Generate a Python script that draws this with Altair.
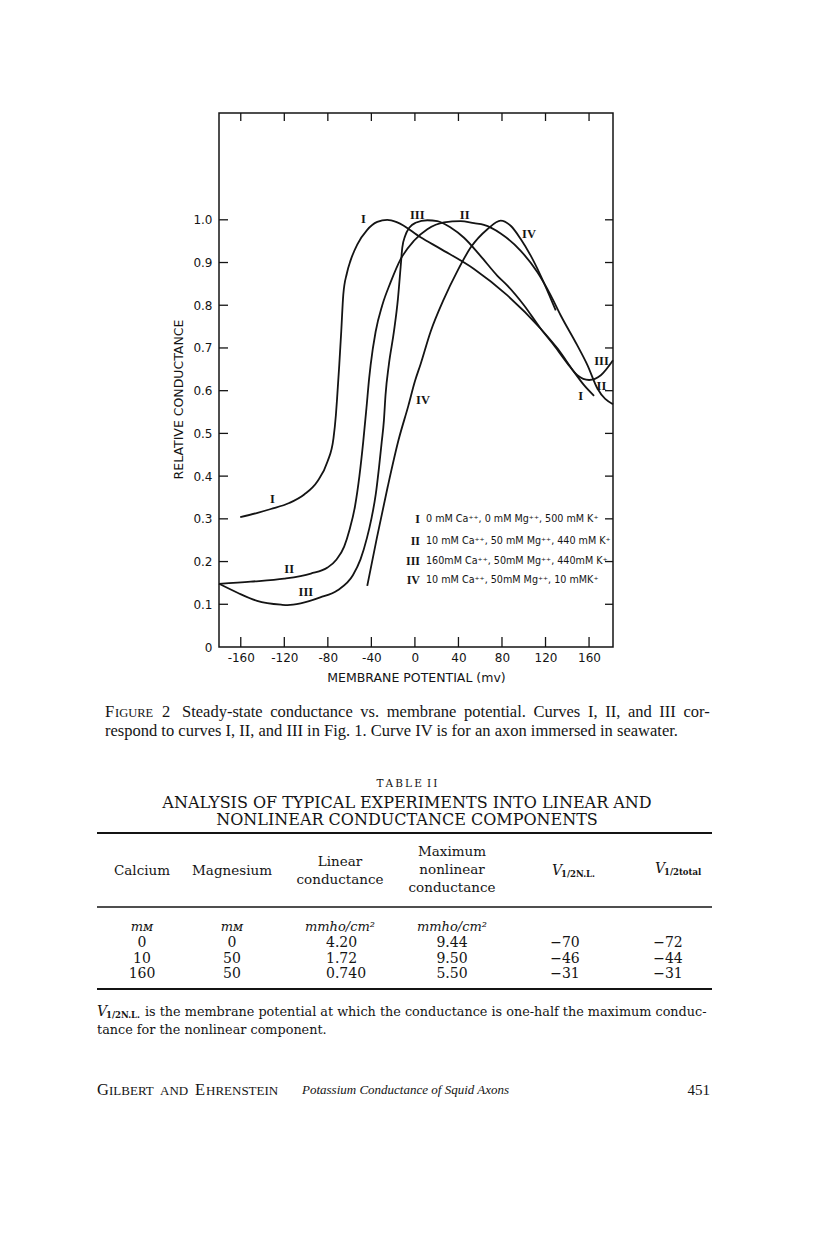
import altair as alt
import pandas as pd

# ---------------- data ----------------
curve_I_mv = [-160.5, -144.6, -132.4, -115.5, -101.7, -89.5, -80.3, -74.8, -72.6, -71.5, -69.5, -67.7,
              -65.8, -62.5, -59.1, -53.0, -44.0, -34.6, -25.4, -16.2, 5.2, 23.6, 54.3, 85.0, 115.6,
              130.9, 146.2, 155.4, 164.6]
curve_I_g = [0.304, 0.314, 0.323, 0.337, 0.357, 0.388, 0.434, 0.489, 0.543, 0.582, 0.66, 0.738,
             0.825, 0.875, 0.905, 0.942, 0.976, 0.995, 1.000, 0.994, 0.959, 0.932, 0.885, 0.823, 0.745,
             0.699, 0.644, 0.613, 0.588]

curve_II_mv = [-180.0, -150.8, -120.1, -95.6, -80.3, -72.0, -65.0, -60.0, -55.0, -51.0, -47.5, -44.5,
               -42.0, -40.7, -36.1, -30.0, -22.3, -13.1, -0.9, 11.4, 26.7, 42.0, 54.3, 63.4, 78.8,
               97.0, 112.6, 124.8, 134.0, 149.2, 158.5, 167.7, 182.0]
curve_II_g = [0.148, 0.153, 0.160, 0.172, 0.186, 0.205, 0.235, 0.275, 0.330, 0.400, 0.480, 0.560,
              0.630, 0.660, 0.738, 0.800, 0.854, 0.908, 0.951, 0.978, 0.994, 0.997, 0.992, 0.988, 0.968,
              0.928, 0.877, 0.823, 0.776, 0.706, 0.660, 0.605, 0.568]

curve_III_mv = [-180.0, -163.0, -145.0, -123.0, -117.0, -105.0, -87.0, -71.0, -57.0, -50.0, -44.0, -40.0,
                -36.0, -33.0, -30.5, -28.5, -27.0, -24.0, -19.3, -15.6, -13.1, -11.6, -9.0, -5.0, 0.6,
                11.4, 20.6, 32.8, 45.1, 60.4, 75.8, 85.0, 100.2, 115.6, 127.9, 140.1, 149.3, 160.0,
                170.8, 182.0]
curve_III_g = [0.148, 0.127, 0.108, 0.099, 0.098, 0.102, 0.116, 0.133, 0.168, 0.205, 0.256, 0.300,
               0.357, 0.420, 0.480, 0.530, 0.590, 0.660, 0.738, 0.815, 0.890, 0.935, 0.962, 0.982, 0.993,
               0.999, 0.997, 0.982, 0.958, 0.915, 0.869, 0.846, 0.800, 0.745, 0.706, 0.664, 0.636, 0.625,
               0.636, 0.671]

curve_IV_mv = [-43.8, -35.0, -25.0, -15.0, -6.0, 0.0, 5.2, 14.4, 26.7, 39.0, 51.2, 66.6, 78.8, 88.0,
               97.2, 106.4, 115.6, 129.4]
curve_IV_g = [0.143, 0.255, 0.375, 0.485, 0.565, 0.622, 0.662, 0.738, 0.815, 0.880, 0.935, 0.978,
              0.998, 0.986, 0.955, 0.916, 0.869, 0.788]

label_text = ["I", "III", "II", "IV", "III", "II", "I", "IV", "I", "II", "III"]
label_mv = [-47.4, 2.2, 45.7, 104.8, 171.4, 171.4, 152.4, 7.4, -130.9, -115.5, -100.2]
label_g = [1.003, 1.012, 1.012, 0.967, 0.669, 0.612, 0.588, 0.578, 0.347, 0.182, 0.128]

legend_numeral = ["I", "II", "III", "IV"]
legend_desc = ["0 mM Ca\u207a\u207a, 0 mM Mg\u207a\u207a, 500 mM K\u207a",
               "10 mM Ca\u207a\u207a, 50 mM Mg\u207a\u207a, 440 mM K\u207a",
               "160mM Ca\u207a\u207a, 50mM Mg\u207a\u207a, 440mM K\u207a",
               "10 mM Ca\u207a\u207a, 50mM Mg\u207a\u207a, 10 mMK\u207a"]
legend_g = [0.299, 0.249, 0.201, 0.157]

x_ticks = [-160, -120, -80, -40, 0, 40, 80, 120, 160]
y_ticks = [0, 0.1, 0.2, 0.3, 0.4, 0.5, 0.6, 0.7, 0.8, 0.9, 1.0]

# page text
caption_1 = "Steady-state conductance vs. membrane potential. Curves I, II, and III cor-"
caption_2 = "respond to curves I, II, and III in Fig. 1. Curve IV is for an axon immersed in seawater."
table_label = "T\u2009A\u2009B\u2009L\u2009E\u2002I\u2009I"
table_title_1 = "ANALYSIS OF TYPICAL EXPERIMENTS INTO LINEAR AND"
table_title_2 = "NONLINEAR CONDUCTANCE COMPONENTS"
col_calcium = ["0", "10", "160"]
col_magnesium = ["0", "50", "50"]
col_linear = ["4.20", "1.72", "0.740"]
col_maxnl = ["9.44", "9.50", "5.50"]
col_vnl = ["\u221270", "\u221246", "\u221231"]
col_vtot = ["\u221272", "\u221244", "\u221231"]
footnote_1 = "is the membrane potential at which the conductance is one-half the maximum conduc-"
footnote_2 = "tance for the nonlinear component."
footer_title = "Potassium Conductance of Squid Axons"
footer_page = "451"

# ---------------- geometry ----------------
W, H = 394, 534
OX, OY = 219, 113   # page position of the plot area
XDOM = [-180, 182]
YDOM = [0, 1.25]
INK = "#141414"

xs = alt.Scale(domain=XDOM, nice=False, zero=False)
ys = alt.Scale(domain=YDOM, nice=False, zero=False)

rows = []
for name, mv, g in [("I", curve_I_mv, curve_I_g), ("II", curve_II_mv, curve_II_g),
                    ("III", curve_III_mv, curve_III_g), ("IV", curve_IV_mv, curve_IV_g)]:
    for a, b in zip(mv, g):
        rows.append({"curve": name, "mv": a, "g": b})
curves = pd.DataFrame(rows)

lines = alt.Chart(curves).mark_line(interpolate="monotone", color=INK, strokeWidth=1.8).encode(
    x=alt.X("mv:Q", scale=xs, axis=alt.Axis(
        values=x_ticks, ticks=False, domain=False, grid=False,
        labelExpr="(datum.value < 0 ? '-' : '') + abs(datum.value)",
        labelFont="DejaVu Sans", labelFontSize=12, labelColor=INK, labelPadding=5,
        title="MEMBRANE POTENTIAL (mv)", titleFont="DejaVu Sans", titleFontSize=12.5,
        titleFontWeight="normal", titleColor=INK, titlePadding=8)),
    y=alt.Y("g:Q", scale=ys, axis=alt.Axis(
        values=y_ticks, ticks=False, domain=False, grid=False,
        labelExpr="datum.value == 0 ? '0' : format(datum.value, '.1f')",
        labelFont="DejaVu Sans", labelFontSize=12, labelColor=INK, labelPadding=7,
        title="RELATIVE CONDUCTANCE", titleFont="DejaVu Sans", titleFontSize=12.5,
        titleFontWeight="normal", titleColor=INK, titleX=-41, titleY=286,
        titleAngle=270, titleAlign="center", titleBaseline="middle")),
    detail="curve:N",
)

labels_df = pd.DataFrame({"t": label_text, "mv": label_mv, "g": label_g})
labels = alt.Chart(labels_df).mark_text(font="Liberation Serif", fontSize=12.5, fontWeight="bold",
                                        color=INK, align="center", baseline="middle").encode(
    x=alt.X("mv:Q", scale=xs), y=alt.Y("g:Q", scale=ys), text="t:N")

leg_df = pd.DataFrame({"n": legend_numeral, "d": legend_desc, "g": legend_g})
leg_num = alt.Chart(leg_df).mark_text(font="Liberation Serif", fontSize=12, fontWeight="bold", color=INK,
                                      align="right", baseline="middle").encode(
    x=alt.value(201), y=alt.Y("g:Q", scale=ys), text="n:N")
leg_txt = alt.Chart(leg_df).mark_text(font="DejaVu Sans", fontSize=9.6, color=INK,
                                      align="left", baseline="middle").encode(
    x=alt.value(207), y=alt.Y("g:Q", scale=ys), text="d:N")

# inward ticks on all four sides
xt = pd.DataFrame({"v": x_ticks})
yt = pd.DataFrame({"v": y_ticks[1:]})
tick_kw = dict(color=INK, strokeWidth=1.3)
t_bottom = alt.Chart(xt).mark_rule(**tick_kw).encode(x=alt.X("v:Q", scale=xs), y=alt.value(H), y2=alt.value(H - 10))
t_top = alt.Chart(xt).mark_rule(**tick_kw).encode(x=alt.X("v:Q", scale=xs), y=alt.value(0), y2=alt.value(8))
t_left = alt.Chart(yt).mark_rule(**tick_kw).encode(y=alt.Y("v:Q", scale=ys), x=alt.value(0), x2=alt.value(9))
t_right = alt.Chart(yt).mark_rule(**tick_kw).encode(y=alt.Y("v:Q", scale=ys), x=alt.value(W), x2=alt.value(W - 8))


# ---------------- page text (pixel placed) ----------------
def page_text(items, **kw):
    df = pd.DataFrame([{"t": t, "x": px - OX, "y": py - OY} for t, px, py in items])
    base = dict(color=INK, baseline="middle")
    base.update(kw)
    return alt.Chart(df).mark_text(**base).encode(
        x=alt.X("x:Q", scale=None, axis=None), y=alt.Y("y:Q", scale=None, axis=None), text="t:N")


# Times-compatible advance widths (1/1000 em) for justifying a line of Liberation Serif
TIMES_W = {c: w for c, w in zip("abcdefghijklmnopqrstuvwxyz",
                                [444, 500, 444, 500, 444, 333, 500, 500, 278, 278, 500, 278, 778,
                                 500, 500, 500, 500, 333, 389, 278, 500, 500, 722, 500, 500, 444])}
TIMES_W.update({" ": 250, ".": 250, ",": 250, "-": 333, "C": 667, "I": 333, "S": 556, "V": 722, "F": 556})


def justify(line, left, right, size):
    words = line.split(" ")
    widths = [sum(TIMES_W.get(ch, 500) for ch in w) * size / 1000 for w in words]
    gap = (right - left - sum(widths)) / (len(words) - 1)
    out, x = [], left
    for w, wd in zip(words, widths):
        out.append((w, x))
        x += wd + gap
    return out


SERIF = "Liberation Serif"
CAP_Y1, CAP_Y2 = 712, 731
cap = [
    page_text([("F", 105, CAP_Y1), ("2", 162, CAP_Y1)], font=SERIF, fontSize=16.5, align="left"),
    page_text([("IGURE", 115, CAP_Y1 + 1)], font=SERIF, fontSize=12.5, align="left"),
    page_text([(w, x, CAP_Y1) for w, x in justify(caption_1, 182, 710, 16.5)] + [(caption_2, 105, CAP_Y2)],
              font=SERIF, fontSize=16.5, align="left"),
]
ttl = [
    page_text([(table_label, 407, 784)], font="DejaVu Serif", fontSize=10.5, align="center"),
    page_text([(table_title_1, 407, 803), (table_title_2, 407, 820)], font="DejaVu Serif", fontSize=16, align="center"),
]
hdr = [
    page_text([("Calcium", 142, 871), ("Magnesium", 232, 871), ("Linear", 340, 862), ("conductance", 340, 880),
               ("Maximum", 452, 852), ("nonlinear", 452, 870), ("conductance", 452, 888)],
              font="DejaVu Serif", fontSize=13.5, align="center"),
    page_text([("V", 552, 871), ("V", 655, 869)], font="DejaVu Serif", fontSize=14, fontStyle="italic", align="left"),
    page_text([("1/2N.L.", 561, 874), ("1/2total", 664, 872)], font="DejaVu Serif", fontSize=8.5, fontWeight="bold", align="left"),
    page_text([("m\u1d0d", 142, 927), ("m\u1d0d", 232, 927), ("mmho/cm\u00b2", 340, 927), ("mmho/cm\u00b2", 452, 927)],
              font="DejaVu Serif", fontSize=13, fontStyle="italic", align="center"),
]
body_items_c = []
row_y = [943, 959, 974]
for i, yy in enumerate(row_y):
    body_items_c += [(col_calcium[i], 142, yy), (col_magnesium[i], 232, yy), (col_maxnl[i], 452, yy),
                     (col_vnl[i], 565, yy), (col_vtot[i], 668, yy)]
body = [
    page_text(body_items_c, font="DejaVu Serif", fontSize=14, align="center"),
    page_text([(col_linear[i], 326, yy) for i, yy in enumerate(row_y)], font="DejaVu Serif", fontSize=14, align="left"),
]
foot = [
    page_text([("V", 97, 1012)], font="DejaVu Serif", fontSize=14, fontStyle="italic", align="left"),
    page_text([("1/2N.L.", 106, 1015)], font="DejaVu Serif", fontSize=8.5, fontWeight="bold", align="left"),
    page_text([(footnote_1, 145, 1012), (footnote_2, 97, 1030)], font="DejaVu Serif", fontSize=12.8, align="left"),
    # small-caps author line
    page_text([("G", 97, 1090), ("E", 195, 1090)], font=SERIF, fontSize=16.5, align="left"),
    page_text([("ILBERT", 109, 1091), ("AND", 160, 1091), ("HRENSTEIN", 206, 1091)], font=SERIF, fontSize=13, align="left"),
    page_text([(footer_title, 302, 1090)], font=SERIF, fontSize=13, fontStyle="italic", align="left"),
    page_text([(footer_page, 710, 1090)], font=SERIF, fontSize=15, align="right"),
]

rules_df = pd.DataFrame([
    {"x": 97 - OX, "x2": 712 - OX, "y": 833 - OY, "w": 2.2},
    {"x": 97 - OX, "x2": 712 - OX, "y": 907 - OY, "w": 1.4},
    {"x": 97 - OX, "x2": 712 - OX, "y": 989 - OY, "w": 2.2},
])
table_rules = alt.Chart(rules_df).mark_rule(color=INK).encode(
    x=alt.X("x:Q", scale=None, axis=None), x2="x2:Q",
    y=alt.Y("y:Q", scale=None, axis=None), strokeWidth=alt.StrokeWidth("w:Q", scale=None, legend=None))

chart = alt.layer(
    lines, labels, leg_num, leg_txt, t_bottom, t_top, t_left, t_right,
    *cap, *ttl, *hdr, *body, *foot, table_rules,
).properties(
    width=W, height=H,
    autosize=alt.AutoSizeParams(type="none"),
    padding={"left": OX - 8, "top": OY - 8, "right": 800 - (OX - 8) - W, "bottom": 1218 - (OY - 8) - H},
    background="white",
).configure_view(stroke=INK, strokeWidth=1.5)

chart.save("out.html", embed_options={"renderer": "svg", "actions": False})
